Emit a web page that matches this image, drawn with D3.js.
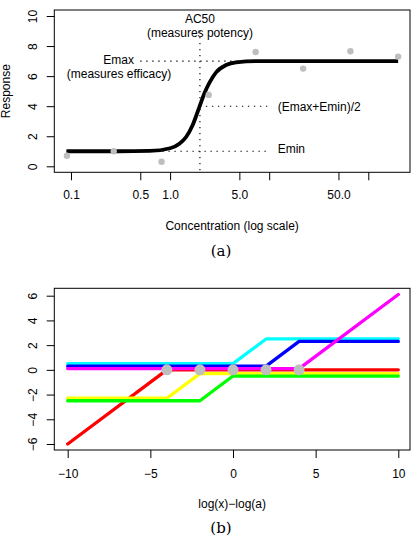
<!DOCTYPE html>
<html>
<head>
<meta charset="utf-8">
<script src="https://cdn.jsdelivr.net/npm/d3@7"></script>
<style>
  body { margin: 0; background: #fff; }
  svg { display: block; font-family: "Liberation Sans", Arial, sans-serif; }
  .tick text { font-size: 12px; fill: #000; }
  .tick line { stroke: #000; }
</style>
</head>
<body>
<div id="chart"></div>
<script>
const svgWidth = 416;
const svgHeight = 538;

// ---- panel (a) data ----
const concTicks = [0.1, 0.5, 1, 5, 10, 50, 100];
const concTickLabels = ["0.1", "0.5", "1.0", "5.0", "", "50.0", ""];
const respTicks = [0, 2, 4, 6, 8, 10];

// observed responses
const obsConc = [0.091, 0.27, 0.82, 2.45, 7.3, 22, 66, 200];
const obsResp = [0.7, 1.0, 0.3, 4.75, 7.6, 6.5, 7.65, 7.3];

// fitted curve
const fitConc = [0.09, 0.3, 0.62, 1.0, 1.24, 1.45, 1.69, 1.98, 2.22, 2.49, 2.91, 3.67, 4.63, 7.95, 200];
const fitResp = [1.0, 1.0, 1.02, 1.2, 1.5, 1.95, 2.75, 3.97, 4.86, 5.55, 6.25, 6.74, 6.92, 7.0, 7.0];

const emin = 1;
const emax = 7;
const ac50 = 2;

// ---- panel (b) data ----
const shiftTicks = [-10, -5, 0, 5, 10];
const shiftYTicks = [-6, -4, -2, 0, 2, 4, 6];
const lineColors = ["#ff0000", "#ffff00", "#00ff00", "#00ffff", "#0000ff", "#ff00ff"];
const redLine = [[-10, -6], [-4, 0], [10, 0]];
const yellowLine = [[-10, -2.3], [-4, -2.3], [-2, -0.3], [10, -0.3]];
const greenLine = [[-10, -2.5], [-2, -2.5], [0, -0.5], [10, -0.5]];
const cyanLine = [[-10, 0.5], [0, 0.5], [2, 2.5], [10, 2.5]];
const blueLine = [[-10, 0.3], [2, 0.3], [4, 2.3], [10, 2.3]];
const magentaLine = [[-10, 0.1], [4, 0.1], [10, 6.1]];
const shiftPointsX = [-4, -2, 0, 2, 4];
const shiftPointsY = [0, 0, 0, 0, 0];

const fmtMinus = d => String(d).replace("-", "\u2212");

const svg = d3.select("#chart")
  .append("svg")
  .attr("width", svgWidth)
  .attr("height", svgHeight);

// ================= panel (a) =================
const boxA = { left: 54.3, right: 410, top: 10, bottom: 172.3 };

const xA = d3.scaleLog().domain([0.1, 100]).range([71, 368.3]);
const yA = d3.scaleLinear().domain([0, 10]).range([166.3, 16]);

const gA = svg.append("g");

gA.append("rect")
  .attr("x", boxA.left).attr("y", boxA.top)
  .attr("width", boxA.right - boxA.left)
  .attr("height", boxA.bottom - boxA.top)
  .attr("fill", "none").attr("stroke", "#000").attr("stroke-width", 1);

const xAxisA = gA.append("g")
  .attr("transform", `translate(0, ${boxA.bottom})`)
  .call(d3.axisBottom(xA).tickValues(concTicks)
    .tickFormat((d, i) => concTickLabels[i]).tickSize(8).tickSizeOuter(0));
xAxisA.select(".domain").remove();
xAxisA.selectAll("text").attr("y", 22.7).attr("dy", "0.35em");

const yAxisA = gA.append("g")
  .attr("transform", `translate(${boxA.left}, 0)`)
  .call(d3.axisLeft(yA).tickValues(respTicks).tickSize(7.6).tickSizeOuter(0));
yAxisA.select(".domain").remove();
yAxisA.selectAll("text")
  .attr("x", null).attr("dy", "0.35em")
  .attr("text-anchor", "middle")
  .attr("transform", "translate(-21.3,0) rotate(-90)");

// dotted guide lines
const dotted = "1.3,4.7";
function guide(x1, y1, x2, y2) {
  gA.append("line")
    .attr("x1", x1).attr("y1", y1).attr("x2", x2).attr("y2", y2)
    .attr("stroke", "#000").attr("stroke-width", 1.1)
    .attr("stroke-dasharray", dotted);
}
guide(xA(0.5), yA(emax), xA(200), yA(emax));
guide(xA(0.09), yA(emin), xA(10), yA(emin));
guide(xA(ac50), yA((emax + emin) / 2), xA(10), yA((emax + emin) / 2));
guide(xA(ac50), yA(9), xA(ac50), boxA.bottom);

// fitted curve
const fitLine = d3.line()
  .x(d => xA(d[0]))
  .y(d => yA(d[1]))
  .curve(d3.curveMonotoneX);

gA.append("path")
  .datum(fitConc.map((c, i) => [c, fitResp[i]]))
  .attr("d", fitLine)
  .attr("fill", "none")
  .attr("stroke", "#000")
  .attr("stroke-width", 3.8);

gA.selectAll("circle.obs")
  .data(obsConc)
  .enter()
  .append("circle")
  .attr("class", "obs")
  .attr("cx", d => xA(d))
  .attr("cy", (d, i) => yA(obsResp[i]))
  .attr("r", 3.2)
  .attr("fill", "#bebebe");

// annotations
const annot = gA.append("g").attr("font-size", "12px").attr("fill", "#000");
annot.append("text").attr("x", xA(ac50)).attr("y", 22.5)
  .attr("text-anchor", "middle").text("AC50");
annot.append("text").attr("x", xA(ac50)).attr("y", 36.5)
  .attr("text-anchor", "middle").text("(measures potency)");
annot.append("text").attr("x", 134).attr("y", 64)
  .attr("text-anchor", "end").text("Emax");
annot.append("text").attr("x", 119).attr("y", 78)
  .attr("text-anchor", "middle").text("(measures efficacy)");
annot.append("text").attr("x", 277.7).attr("y", 110.5)
  .text("(Emax+Emin)/2");
annot.append("text").attr("x", 277.7).attr("y", 153.2)
  .text("Emin");

gA.append("text")
  .attr("x", (boxA.left + boxA.right) / 2).attr("y", 226).attr("dy", "0.35em")
  .attr("text-anchor", "middle").attr("font-size", "12px")
  .text("Concentration (log scale)");

// y label sits at the very left edge; kept just inside the page
gA.append("text")
  .attr("transform", `translate(10, ${(boxA.top + boxA.bottom) / 2}) rotate(-90)`)
  .attr("text-anchor", "middle").attr("font-size", "12px")
  .text("Response");

svg.append("text")
  .attr("x", 221).attr("y", 256)
  .attr("text-anchor", "middle")
  .attr("font-family", "'DejaVu Serif', 'Liberation Serif', serif")
  .attr("font-size", "15px")
  .text("(a)");

// ================= panel (b) =================
const boxB = { left: 54.3, right: 410, top: 288.3, bottom: 450 };

const xB = d3.scaleLinear().domain([-10, 10]).range([67.7, 398.3]);
const yB = d3.scaleLinear().domain([-6, 6]).range([444, 295.7]);

const gB = svg.append("g");

gB.append("rect")
  .attr("x", boxB.left).attr("y", boxB.top)
  .attr("width", boxB.right - boxB.left)
  .attr("height", boxB.bottom - boxB.top)
  .attr("fill", "none").attr("stroke", "#000").attr("stroke-width", 1);

const xAxisB = gB.append("g")
  .attr("transform", `translate(0, ${boxB.bottom})`)
  .call(d3.axisBottom(xB).tickValues(shiftTicks).tickFormat(fmtMinus)
    .tickSize(8).tickSizeOuter(0));
xAxisB.select(".domain").remove();
xAxisB.selectAll("text").attr("y", 23.3).attr("dy", "0.35em");

const yAxisB = gB.append("g")
  .attr("transform", `translate(${boxB.left}, 0)`)
  .call(d3.axisLeft(yB).tickValues(shiftYTicks).tickFormat(fmtMinus)
    .tickSize(7.6).tickSizeOuter(0));
yAxisB.select(".domain").remove();
yAxisB.selectAll("text")
  .attr("x", null).attr("dy", "0.35em")
  .attr("text-anchor", "middle")
  .attr("transform", "translate(-21.3,0) rotate(-90)");

const shiftLine = d3.line()
  .x(d => xB(d[0]))
  .y(d => yB(d[1]));

const allLines = [redLine, yellowLine, greenLine, cyanLine, blueLine, magentaLine];

gB.selectAll("path.resp")
  .data(allLines)
  .enter()
  .append("path")
  .attr("class", "resp")
  .attr("d", shiftLine)
  .attr("fill", "none")
  .attr("stroke", (d, i) => lineColors[i])
  .attr("stroke-width", 3.3)
  .attr("stroke-linecap", "round")
  .attr("stroke-linejoin", "round");

gB.selectAll("circle.mid")
  .data(shiftPointsX)
  .enter()
  .append("circle")
  .attr("class", "mid")
  .attr("cx", d => xB(d))
  .attr("cy", (d, i) => yB(shiftPointsY[i]))
  .attr("r", 5.5)
  .attr("fill", "#bebebe");

gB.append("text")
  .attr("x", (boxB.left + boxB.right) / 2).attr("y", 503.3).attr("dy", "0.35em")
  .attr("text-anchor", "middle").attr("font-size", "12px")
  .text("log(x)\u2212log(a)");

svg.append("text")
  .attr("x", 221).attr("y", 533)
  .attr("text-anchor", "middle")
  .attr("font-family", "'DejaVu Serif', 'Liberation Serif', serif")
  .attr("font-size", "15px")
  .text("(b)");
</script>
</body>
</html>
